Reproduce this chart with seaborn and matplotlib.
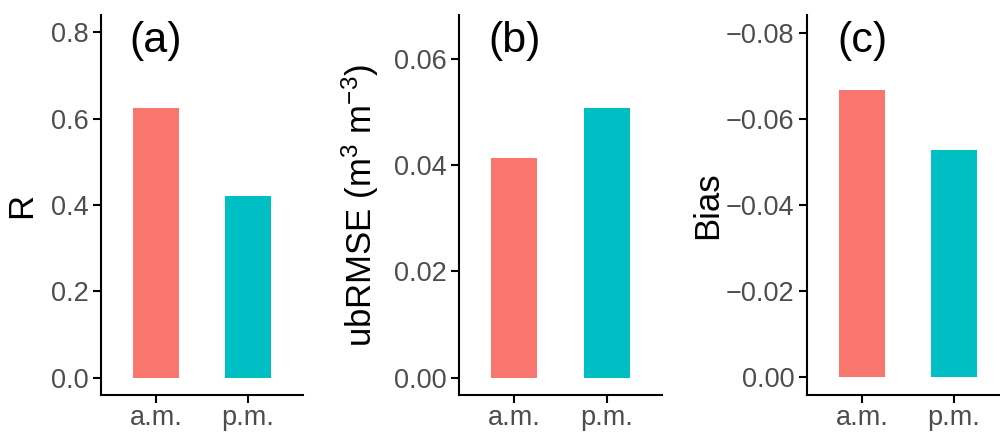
import matplotlib
matplotlib.use("Agg")
import matplotlib.pyplot as plt
import matplotlib.transforms as mtransforms
import seaborn as sns
import pandas as pd

# Overpass times and retrieval skill metrics
times = ["a.m.", "p.m."]
r_values = [0.624, 0.420]
ubrmse_values = [0.0414, 0.0508]
bias_values = [-0.0668, -0.0529]

r_ticks = [0.0, 0.2, 0.4, 0.6, 0.8]
r_ticklabels = ["0.0", "0.2", "0.4", "0.6", "0.8"]
ubrmse_ticks = [0.00, 0.02, 0.04, 0.06]
ubrmse_ticklabels = ["0.00", "0.02", "0.04", "0.06"]
bias_ticks = [0.00, -0.02, -0.04, -0.06, -0.08]
bias_ticklabels = ["0.00", "\u22120.02", "\u22120.04", "\u22120.06", "\u22120.08"]

panel_tags = ["(a)", "(b)", "(c)"]
ylabels = ["R", "ubRMSE (m$^{3}$ m$^{-3}$)", "Bias"]

palette = {"a.m.": "#F8766D", "p.m.": "#00BFC4"}

sns.set_theme(style="ticks")
plt.rcParams["font.family"] = ["Liberation Sans", "DejaVu Sans"]
plt.rcParams["mathtext.fontset"] = "custom"
plt.rcParams["mathtext.rm"] = "Liberation Sans"
plt.rcParams["mathtext.it"] = "Liberation Sans:italic"
plt.rcParams["mathtext.default"] = "regular"

W, H = 1000, 434
fig = plt.figure(figsize=(W / 100, H / 100), dpi=100)


def px_axes(left, top, right, bottom):
    return fig.add_axes([left / W, 1 - bottom / H, (right - left) / W, (bottom - top) / H])


axes = [
    px_axes(101, 15, 303, 395),
    px_axes(459, 15, 662, 395),
    px_axes(807, 15, 1009, 395),
]

datasets = [r_values, ubrmse_values, bias_values]
ylims = [(-0.04, 0.84), (-0.00325, 0.06825), (0.0042, -0.0842)]
ticks = [r_ticks, ubrmse_ticks, bias_ticks]
ticklabels = [r_ticklabels, ubrmse_ticklabels, bias_ticklabels]
label_x = [-0.31, -0.384, -0.41]

for ax, vals, ylim, tk, tl, tag, yl, lx in zip(
    axes, datasets, ylims, ticks, ticklabels, panel_tags, ylabels, label_x
):
    df = pd.DataFrame({"time": times, "value": vals})
    sns.barplot(
        data=df, x="time", y="value", hue="time", palette=palette,
        width=0.5, saturation=1, legend=False, ax=ax, edgecolor="none",
    )
    ax.set_xlim(-0.6, 1.6)
    ax.set_ylim(*ylim)
    ax.set_yticks(tk)
    ax.set_yticklabels(tl)
    ax.set_xlabel("")
    ax.set_ylabel(yl, fontsize=25, color="black")
    ax.yaxis.set_label_coords(lx, 0.5)
    for side in ["top", "right"]:
        ax.spines[side].set_visible(False)
    for side in ["left", "bottom"]:
        ax.spines[side].set_linewidth(1.5)
        ax.spines[side].set_color("black")
        ax.spines[side].set_clip_on(False)
    ax.tick_params(axis="both", length=6, width=1.5, color="black",
                   labelsize=19.5, labelcolor="#4D4D4D")
    ax.tick_params(axis="y", pad=3)
    ax.tick_params(axis="x", pad=1)
    trans = mtransforms.blended_transform_factory(ax.transData, ax.transAxes)
    ax.text(0, 0.932, tag, transform=trans, ha="center", va="center",
            fontsize=31, color="black")

fig.savefig("out.png", dpi=100)
